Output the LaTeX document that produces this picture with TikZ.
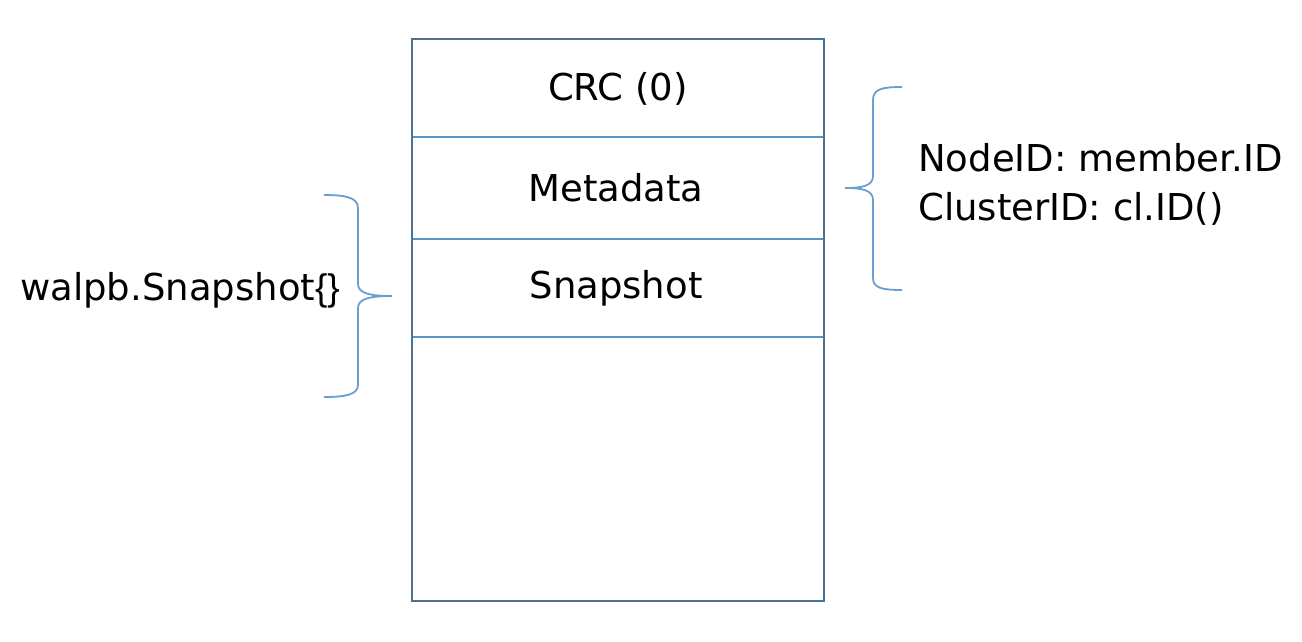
\documentclass[tikz,border=0pt]{standalone}
\usepackage{fontspec}
\setmainfont{DejaVu Sans}
\newfontfamily\bracefont{Liberation Sans}
\definecolor{boxblue}{HTML}{4A7294}
\definecolor{divblue}{HTML}{5B95C8}
\definecolor{braceblue}{HTML}{6A9ED0}
\begin{document}
\begin{tikzpicture}[x=1pt,y=-1pt,
  lbl/.style={inner sep=0pt,font=\fontsize{37}{44}\selectfont,text=black},
  divider/.style={draw=divblue,line width=2pt},
  outer/.style={draw=boxblue,line width=2pt,fill=none,inner sep=0pt,minimum width=412pt,minimum height=562pt},
  bracepath/.style={draw=braceblue,line width=1.8pt}]
\useasboundingbox (0,0) rectangle (1302,642);
% box
\node[outer] (box) at (618,320) {};
\coordinate (d1l) at (412,136.5); \coordinate (d1r) at (824,136.5);
\coordinate (d2l) at (412,239);   \coordinate (d2r) at (824,239);
\coordinate (d3l) at (412,337);   \coordinate (d3r) at (824,337);
\draw[divider] (d1l) -- (d1r);
\draw[divider] (d2l) -- (d2r);
\draw[divider] (d3l) -- (d3r);
\node[outer] at (box.center) {};
% labels in box
\node[lbl,anchor=base] (crc) at (618,100) {CRC (0)};
\node[lbl,anchor=base] (meta) at (616,201) {Metadata};
\node[lbl,anchor=base] (snap) at (616,298) {Snapshot};
% right brace
\draw[bracepath] (902,87) .. controls (882,87) and (873,89) .. (873,100)
  -- (873,176) .. controls (873,186) and (862,188) .. (845,188)
  .. controls (862,188) and (873,190) .. (873,200)
  -- (873,278) .. controls (873,288) and (882,290) .. (902,290);
% left brace
\draw[bracepath] (324,195) .. controls (344,195) and (358,197) .. (358,208)
  -- (358,284) .. controls (358,294) and (372,296) .. (392,296)
  .. controls (372,296) and (358,298) .. (358,308)
  -- (358,385) .. controls (358,395) and (344,397) .. (324,397);
% side texts
\node[lbl,anchor=base west] (nodeid) at (918,171) {NodeID: member.ID};
\node[lbl,anchor=base west] (clusterid) at (918,220) {ClusterID: cl.ID()};
\node[lbl,anchor=base west] (walpb) at (20,300) {walpb.Snapshot{\bracefont\{\}}};
\end{tikzpicture}
\end{document}
